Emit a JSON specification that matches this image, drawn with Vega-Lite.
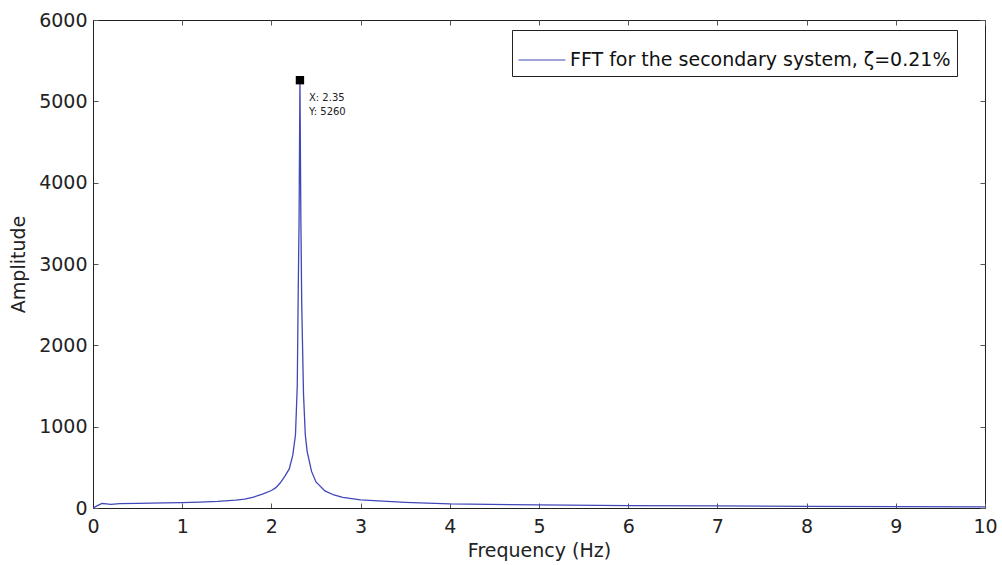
{
  "$schema": "https://vega.github.io/schema/vega-lite/v6.json",
  "width": 892,
  "height": 488,
  "autosize": {"type": "none"},
  "padding": {"left": 93, "top": 20, "right": 17, "bottom": 57},
  "background": "white",
  "config": {
    "font": "DejaVu Sans",
    "view": {"stroke": "#222", "strokeWidth": 1}
  },
  "datasets": {
    "fft": [
      {"f": 0, "amp": 0}, {"f": 0.05, "amp": 30}, {"f": 0.1, "amp": 55}, {"f": 0.15, "amp": 50},
      {"f": 0.2, "amp": 45}, {"f": 0.3, "amp": 55}, {"f": 0.5, "amp": 58}, {"f": 0.8, "amp": 62},
      {"f": 1.0, "amp": 65}, {"f": 1.2, "amp": 72}, {"f": 1.4, "amp": 82}, {"f": 1.6, "amp": 98},
      {"f": 1.7, "amp": 110}, {"f": 1.8, "amp": 135}, {"f": 1.9, "amp": 170}, {"f": 2.0, "amp": 215},
      {"f": 2.05, "amp": 250}, {"f": 2.1, "amp": 310}, {"f": 2.15, "amp": 390}, {"f": 2.2, "amp": 480},
      {"f": 2.24, "amp": 650}, {"f": 2.27, "amp": 900}, {"f": 2.29, "amp": 1500}, {"f": 2.3, "amp": 2600},
      {"f": 2.31, "amp": 3500}, {"f": 2.32, "amp": 5260}, {"f": 2.33, "amp": 3600}, {"f": 2.34, "amp": 2500},
      {"f": 2.36, "amp": 1400}, {"f": 2.38, "amp": 900}, {"f": 2.4, "amp": 700}, {"f": 2.45, "amp": 450},
      {"f": 2.5, "amp": 320}, {"f": 2.6, "amp": 210}, {"f": 2.7, "amp": 160}, {"f": 2.8, "amp": 130},
      {"f": 3.0, "amp": 100}, {"f": 3.5, "amp": 70}, {"f": 4.0, "amp": 50}, {"f": 5.0, "amp": 38},
      {"f": 6.0, "amp": 30}, {"f": 7.0, "amp": 25}, {"f": 8.0, "amp": 20}, {"f": 9.0, "amp": 18},
      {"f": 10.0, "amp": 15}
    ],
    "tip": [{"f": 2.32, "amp": 5260, "label": "X: 2.35\nY: 5260"}]
  },
  "resolve": {"axis": {"x": "independent", "y": "independent"}},
  "layer": [
    {
      "data": {"name": "fft"},
      "transform": [{"calculate": "'FFT for the secondary system, ζ=0.21%'", "as": "series"}],
      "mark": {"type": "line", "strokeWidth": 1.3, "clip": true},
      "encoding": {
        "x": {
          "field": "f", "type": "quantitative",
          "scale": {"domain": [0, 10], "nice": false, "zero": false},
          "axis": {
            "title": "Frequency (Hz)", "titleFontSize": 19, "titleFontWeight": "normal", "titleColor": "#222",
            "titlePadding": 5, "values": [0,1,2,3,4,5,6,7,8,9,10], "format": "d",
            "labelFontSize": 19, "labelColor": "#222", "labelPadding": 14, "tickSize": -5,
            "tickColor": "#555", "domainColor": "#222", "grid": false, "labelFlush": false
          }
        },
        "y": {
          "field": "amp", "type": "quantitative",
          "scale": {"domain": [0, 6000], "nice": false},
          "axis": {
            "title": "Amplitude", "titleFontSize": 19, "titleFontWeight": "normal", "titleColor": "#222",
            "titlePadding": 10, "values": [0,1000,2000,3000,4000,5000,6000], "format": "d",
            "labelFontSize": 19, "labelColor": "#222", "labelPadding": 11, "tickSize": -5,
            "tickColor": "#555", "domainColor": "#222", "grid": false
          }
        },
        "color": {
          "field": "series", "type": "nominal",
          "scale": {"range": ["#4047b8"]},
          "legend": {
            "title": null, "orient": "none", "legendX": 419, "legendY": 10,
            "symbolType": "stroke", "symbolSize": 2200, "symbolStrokeWidth": 1,
            "symbolStrokeColor": "#8084d2",
            "labelFontSize": 19, "labelColor": "#111", "labelLimit": 600,
            "fillColor": "white", "strokeColor": "#222", "padding": 6
          }
        }
      }
    },
    {
      "data": {"name": "tip"},
      "mark": {"type": "square", "size": 70, "color": "black", "opacity": 1, "filled": true},
      "encoding": {
        "x": {"field": "f", "type": "quantitative",
          "axis": {"orient": "top", "title": null, "labels": false, "domain": false, "tickSize": -5, "tickColor": "#555", "grid": false, "values": [0,1,2,3,4,5,6,7,8,9,10]}},
        "y": {"field": "amp", "type": "quantitative",
          "axis": {"orient": "right", "title": null, "labels": false, "domain": false, "tickSize": -5, "tickColor": "#555", "grid": false, "values": [0,1000,2000,3000,4000,5000,6000]}}
      }
    },
    {
      "data": {"name": "tip"},
      "mark": {"type": "text", "align": "left", "baseline": "top", "dx": 9, "dy": 13, "fontSize": 10, "lineBreak": "\n", "lineHeight": 14, "color": "#222"},
      "encoding": {
        "x": {"field": "f", "type": "quantitative", "axis": null},
        "y": {"field": "amp", "type": "quantitative", "axis": null},
        "text": {"field": "label"}
      }
    }
  ]
}
